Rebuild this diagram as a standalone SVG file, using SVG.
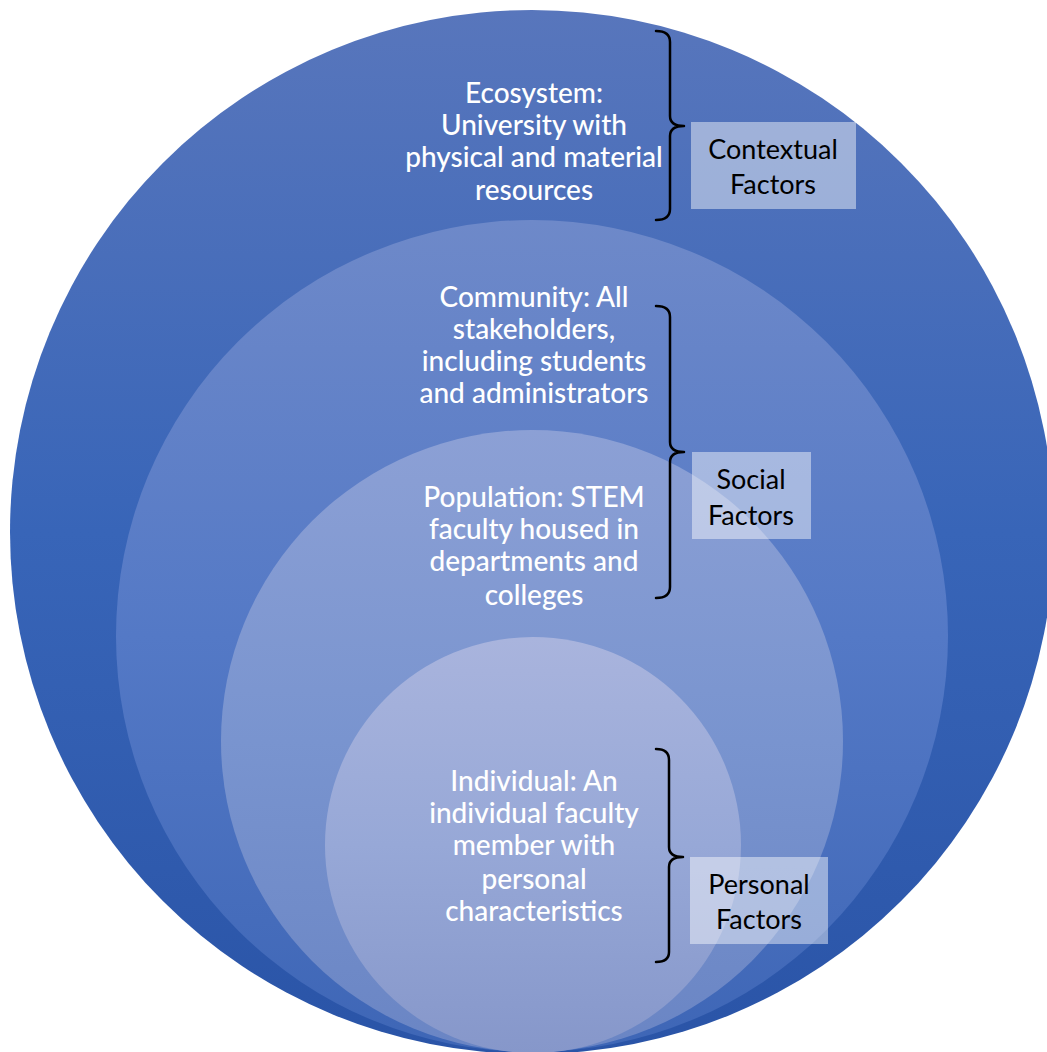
<svg xmlns="http://www.w3.org/2000/svg" width="1047" height="1052" viewBox="0 0 1047 1052">
  <defs>
    <linearGradient id="g1" x1="0" y1="0" x2="0" y2="1">
      <stop offset="0" stop-color="#5876bc"/>
      <stop offset="0.5" stop-color="#3865b8"/>
      <stop offset="1" stop-color="#2a54a7"/>
    </linearGradient>
    <linearGradient id="g2" x1="0" y1="0" x2="0" y2="1">
      <stop offset="0" stop-color="#6e89c9"/>
      <stop offset="0.5" stop-color="#5479c6"/>
      <stop offset="1" stop-color="#3e66b6"/>
    </linearGradient>
    <linearGradient id="g3" x1="0" y1="0" x2="0" y2="1">
      <stop offset="0" stop-color="#8ca0d5"/>
      <stop offset="0.5" stop-color="#7994cf"/>
      <stop offset="1" stop-color="#6a85c4"/>
    </linearGradient>
    <linearGradient id="g4" x1="0" y1="0" x2="0" y2="1">
      <stop offset="0" stop-color="#a9b4dd"/>
      <stop offset="0.5" stop-color="#97a8d7"/>
      <stop offset="1" stop-color="#8697ca"/>
    </linearGradient>
  </defs>
  <style>
    .lbl { font-family: Lato, "Open Sans", "Liberation Sans", sans-serif; font-size: 28px; font-weight: 500; fill: #ffffff; text-anchor: middle; }
    .fac { font-family: Lato, "Open Sans", "Liberation Sans", sans-serif; font-size: 27px; fill: #000000; text-anchor: middle; }
    .box { fill: #ffffff; fill-opacity: 0.45; }
    .brace { fill: none; stroke: #000000; stroke-width: 2.5; stroke-linejoin: round; stroke-linecap: round; }
  </style>

  <g id="ecosystem">
    <circle cx="532" cy="532" r="522" fill="url(#g1)"/>
    <text class="lbl" x="534" y="103">Ecosystem:</text>
    <text class="lbl" x="534" y="135">University with</text>
    <text class="lbl" x="534" y="167">physical and material</text>
    <text class="lbl" x="534" y="200">resources</text>
  </g>

  <g id="community">
    <circle cx="532" cy="636" r="416" fill="url(#g2)"/>
    <text class="lbl" x="534" y="307">Community: All</text>
    <text class="lbl" x="534" y="339">stakeholders,</text>
    <text class="lbl" x="534" y="371">including students</text>
    <text class="lbl" x="534" y="403">and administrators</text>
  </g>

  <g id="population">
    <circle cx="532" cy="741" r="311" fill="url(#g3)"/>
    <text class="lbl" x="534" y="507">Population: STEM</text>
    <text class="lbl" x="534" y="539">faculty housed in</text>
    <text class="lbl" x="534" y="571">departments and</text>
    <text class="lbl" x="534" y="605">colleges</text>
  </g>

  <g id="individual">
    <circle cx="533" cy="845" r="208" fill="url(#g4)"/>
    <text class="lbl" x="534" y="791">Individual: An</text>
    <text class="lbl" x="534" y="823">individual faculty</text>
    <text class="lbl" x="534" y="855">member with</text>
    <text class="lbl" x="534" y="889">personal</text>
    <text class="lbl" x="534" y="921">characteristics</text>
  </g>

  <g id="connectors">
    <path class="brace" d="M656,31 Q670,31 670,42 L670,116 Q670,126 684,126 Q670,126 670,136 L670,209 Q670,220 656,220"/>
    <path class="brace" d="M656,306 Q670,306 670,317 L670,442 Q670,452 684,452 Q670,452 670,462 L670,587 Q670,598 656,598"/>
    <path class="brace" d="M656,749 Q669,749 669,760 L669,847 Q669,857 683,857 Q669,857 669,867 L669,952 Q669,962 656,962"/>
  </g>

  <g id="contextual-factors">
    <rect class="box" x="691" y="122" width="165" height="87"/>
    <text class="fac" x="773" y="159">Contextual</text>
    <text class="fac" x="773" y="194">Factors</text>
  </g>

  <g id="social-factors">
    <rect class="box" x="692" y="452" width="119" height="87"/>
    <text class="fac" x="751" y="489">Social</text>
    <text class="fac" x="751" y="525">Factors</text>
  </g>

  <g id="personal-factors">
    <rect class="box" x="690" y="857" width="138" height="87"/>
    <text class="fac" x="759" y="894">Personal</text>
    <text class="fac" x="759" y="929">Factors</text>
  </g>
</svg>
